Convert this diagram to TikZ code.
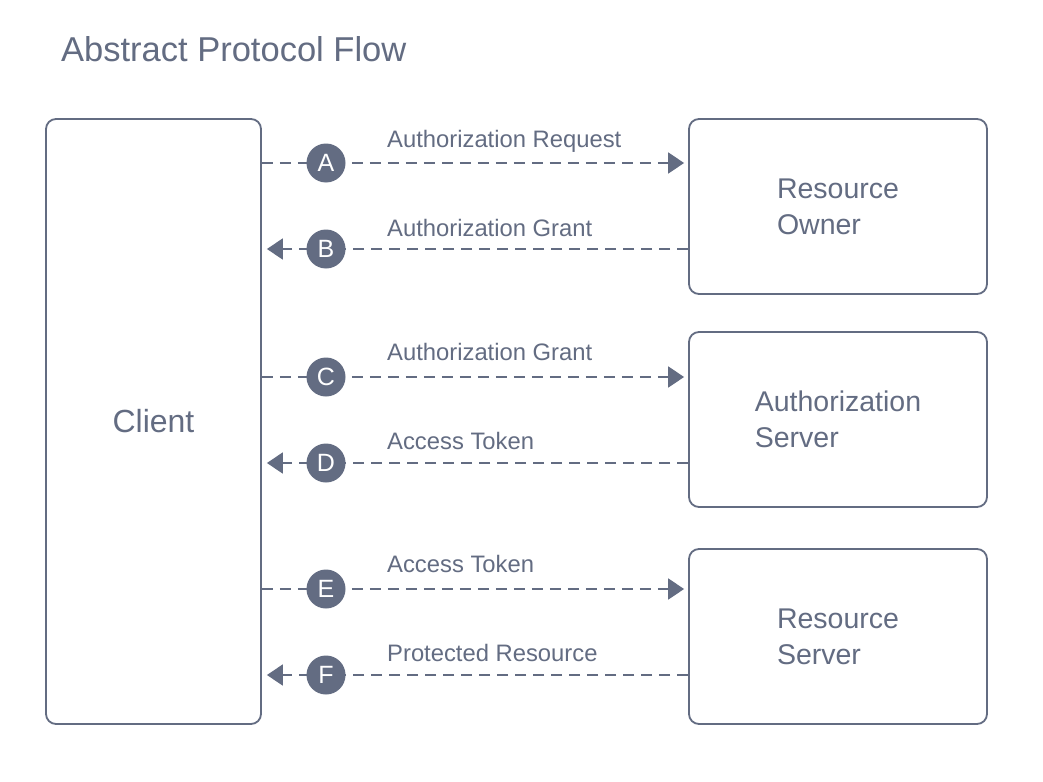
\documentclass[tikz,border=0pt]{standalone}
\usepackage{fontspec}
\setmainfont{Liberation Sans}
\usetikzlibrary{arrows.meta}
\definecolor{ink}{RGB}{99,108,130}
\begin{document}
\begin{tikzpicture}[x=1pt,y=-1pt,
  box/.style={draw=ink,line width=1.8pt,rounded corners=10pt,text=ink,align=left,inner sep=0pt,
    font=\fontsize{28.5}{36}\selectfont},
  flow/.style={ink,line width=1.8pt,dash pattern=on 11pt off 7pt,-{Triangle[length=16pt,width=21pt]}},
  badge/.style={circle,fill=ink,text=white,minimum size=39pt,inner sep=0pt,font=\fontsize{25}{25}\selectfont},
  lbl/.style={text=ink,anchor=base west,inner sep=0pt,font=\fontsize{23.8}{24}\selectfont}]
\useasboundingbox[fill=white] (0,0) rectangle (1043,781);
\node[text=ink,anchor=base west,inner sep=0pt,font=\fontsize{34.5}{35}\selectfont] (title) at (61,62) {Abstract Protocol Flow};

\node[box,minimum width=215pt,minimum height=605pt,align=center,font=\fontsize{32}{36}\selectfont] (client) at (153.5,421.5) {Client};
\node[box,minimum width=298pt,minimum height=175pt] (ro) at (838,206.5) {Resource\\Owner};
\node[box,minimum width=298pt,minimum height=175pt] (as) at (838,419.5) {Authorization\\Server};
\node[box,minimum width=298pt,minimum height=175pt] (rs) at (838,636.5) {Resource\\Server};

\coordinate (yA) at (0,163);
\coordinate (yB) at (0,249);
\coordinate (yC) at (0,377);
\coordinate (yD) at (0,463);
\coordinate (yE) at (0,589);
\coordinate (yF) at (0,675);

\draw[flow,shorten >=4pt] (client.east |- yA) -- (ro.west |- yA);
\draw[flow,shorten >=5pt] (ro.west |- yB) -- (client.east |- yB);
\draw[flow,shorten >=4pt] (client.east |- yC) -- (as.west |- yC);
\draw[flow,shorten >=5pt] (as.west |- yD) -- (client.east |- yD);
\draw[flow,shorten >=4pt] (client.east |- yE) -- (rs.west |- yE);
\draw[flow,shorten >=5pt] (rs.west |- yF) -- (client.east |- yF);

\node[badge] (bA) at (326,163) {A};
\node[badge] (bB) at (326,249) {B};
\node[badge] (bC) at (326,377) {C};
\node[badge] (bD) at (326,463) {D};
\node[badge] (bE) at (326,589) {E};
\node[badge] (bF) at (326,675) {F};

\node[lbl] (lA) at (387,147.5) {Authorization Request};
\node[lbl] (lB) at (387,236.5) {Authorization Grant};
\node[lbl] (lC) at (387,360.5) {Authorization Grant};
\node[lbl] (lD) at (387,449.5) {Access Token};
\node[lbl] (lE) at (387,572.5) {Access Token};
\node[lbl] (lF) at (387,661.5) {Protected Resource};
\end{tikzpicture}
\end{document}
